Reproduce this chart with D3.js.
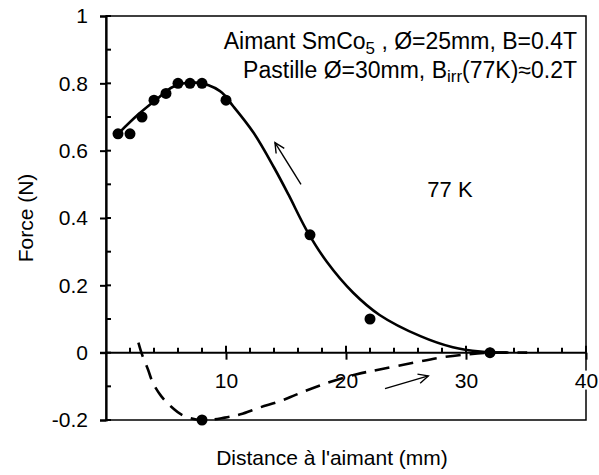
<!DOCTYPE html>
<html><head><meta charset="utf-8">
<script src="https://cdn.jsdelivr.net/npm/d3@7/dist/d3.min.js"></script>
<style>body{margin:0;background:#fff}text{font-family:Arial,"Liberation Sans",sans-serif;fill:#000}</style>
</head><body><svg id="c" width="599" height="475"></svg>
<script>
// measured points
const ptX = [1, 2, 3, 4, 5, 6, 7, 8, 10, 17, 22, 32];
const ptY = [0.65, 0.65, 0.70, 0.75, 0.77, 0.80, 0.80, 0.80, 0.75, 0.35, 0.10, 0];
const minPtX = [8];
const minPtY = [-0.2];
// solid curve
const fitX = [1, 2.7, 4.2, 5.6, 7.5, 9.5, 10.6, 12.3, 14, 15.2, 16.7, 18.4, 20.6, 22.8, 26.2, 28.9, 31.2, 33.4];
const fitY = [0.65, 0.708, 0.752, 0.79, 0.802, 0.777, 0.732, 0.653, 0.55, 0.47, 0.365, 0.27, 0.178, 0.112, 0.049, 0.016, 0.003, 0];
// dashed curve
const dashX = [2.7, 3.0, 3.5, 3.9, 4.6, 5.3, 6.4, 8, 9.9, 11.2, 12.8, 14.5, 15.9, 18.1, 20.9, 22.8, 25.6, 27.8, 30.1, 32, 35.1];
const dashY = [0.03, -0.005, -0.05, -0.089, -0.129, -0.156, -0.186, -0.2, -0.193, -0.183, -0.163, -0.144, -0.124, -0.094, -0.064, -0.05, -0.03, -0.015, -0.005, 0, 0];
// arrows [x1,y1,x2,y2] in data units
const arrowUp = [16.25, 0.50, 14.08, 0.624];
const arrowRight = [23.25, -0.107, 26.86, -0.069];
const yMajor = [-0.2, 0, 0.2, 0.4, 0.6, 0.8, 1];
const yMinor = [-0.1, 0.1, 0.3, 0.5, 0.7, 0.9];
const xMajor = [10, 20, 30, 40];
const xMinor = [2, 4, 6, 8, 12, 14, 16, 18, 22, 24, 26, 28, 32, 34, 36, 38];

const svg = d3.select("#c");
const x = d3.scaleLinear().domain([0, 40]).range([106, 586]);
const y = d3.scaleLinear().domain([-0.2, 1]).range([420, 16]);
const FS = 21;
const FF = "Arial, 'Liberation Sans', sans-serif";

// frame
svg.append("rect").attr("x", x(0)).attr("y", y(1)).attr("width", x(40) - x(0)).attr("height", y(-0.2) - y(1))
  .attr("fill", "none").attr("stroke", "#000").attr("stroke-width", 1.5);

// y axis
const ya = svg.append("g").attr("transform", `translate(${x(0)},0)`)
  .call(d3.axisLeft(y).tickValues(yMajor).tickSize(6).tickPadding(12)
    .tickFormat(d => String(+d.toFixed(1))));
ya.select(".domain").attr("stroke-width", 2.2);
ya.selectAll(".tick line").attr("stroke-width", 2);
ya.selectAll("text").attr("font-size", FS).attr("font-family", FF);
svg.append("g").selectAll("line").data(yMajor.concat(yMinor)).join("line")
  .attr("x1", x(0)).attr("x2", x(0) + 5).attr("y1", d => y(d)).attr("y2", d => y(d))
  .attr("stroke", "#000").attr("stroke-width", 2);

// x axis at y=0
const xa = svg.append("g").attr("transform", `translate(0,${y(0)})`)
  .call(d3.axisBottom(x).tickValues(xMajor).tickSize(7).tickPadding(13));
xa.select(".domain").attr("stroke-width", 2).attr("d", `M${x(0) - 6},0H${x(40)}`);
xa.selectAll(".tick line").attr("stroke-width", 2);
xa.selectAll(".tick text").attr("font-size", FS).attr("font-family", FF);
xa.selectAll(".tick").each(function () {
  const t = d3.select(this).select("text");
  const bb = t.node().getBBox();
  d3.select(this).insert("rect", "text").attr("x", bb.x - 1).attr("y", bb.y + 2).attr("width", bb.width + 2).attr("height", bb.height - 4).attr("fill", "#fff");
});
svg.append("g").selectAll("line").data(xMinor.concat(xMajor)).join("line")
  .attr("x1", d => x(d)).attr("x2", d => x(d)).attr("y1", y(0)).attr("y2", d => y(0) - (xMajor.includes(d) ? 7 : 5))
  .attr("stroke", "#000").attr("stroke-width", 2);

// curves
const line = d3.line().x(d => x(d[0])).y(d => y(d[1])).curve(d3.curveCatmullRom.alpha(0.5));
svg.append("path").attr("d", line(fitX.map((v, i) => [v, fitY[i]])))
  .attr("fill", "none").attr("stroke", "#000").attr("stroke-width", 2.6);
svg.append("path").attr("d", line(dashX.map((v, i) => [v, dashY[i]])))
  .attr("fill", "none").attr("stroke", "#000").attr("stroke-width", 2.6).attr("stroke-dasharray", "15,9");

// points
svg.append("g").selectAll("circle").data(ptX.map((v, i) => [v, ptY[i]]).concat(minPtX.map((v, i) => [v, minPtY[i]])))
  .join("circle").attr("cx", d => x(d[0])).attr("cy", d => y(d[1])).attr("r", 5.5).attr("fill", "#000");

// arrows
function arrow(a) {
  const x1 = x(a[0]), y1 = y(a[1]), x2 = x(a[2]), y2 = y(a[3]);
  const ang = Math.atan2(y2 - y1, x2 - x1), L = 11, w = 0.45;
  svg.append("line").attr("x1", x1).attr("y1", y1).attr("x2", x2).attr("y2", y2).attr("stroke", "#000").attr("stroke-width", 1.4);
  svg.append("path").attr("d", `M${x2 - L * Math.cos(ang - w)},${y2 - L * Math.sin(ang - w)}L${x2},${y2}L${x2 - L * Math.cos(ang + w)},${y2 - L * Math.sin(ang + w)}`)
    .attr("fill", "none").attr("stroke", "#000").attr("stroke-width", 1.4);
}
arrow(arrowUp);
arrow(arrowRight);

// annotations
const LF = 23, SF = 17;
const t1 = svg.append("text").attr("x", 577).attr("y", 49).attr("text-anchor", "end").attr("font-size", LF);
t1.append("tspan").text("Aimant SmCo");
t1.append("tspan").attr("font-size", SF).attr("dy", 5).text("5");
t1.append("tspan").attr("dy", -5).text(" , Ø=25mm, B=0.4T");
const t2 = svg.append("text").attr("x", 577).attr("y", 78).attr("text-anchor", "end").attr("font-size", LF);
t2.append("tspan").text("Pastille Ø=30mm, B");
t2.append("tspan").attr("font-size", SF).attr("dy", 4).text("irr");
t2.append("tspan").attr("dy", -4).text("(77K)≈0.2T");
svg.append("text").attr("x", 450).attr("y", 197).attr("text-anchor", "middle").attr("font-size", 22).text("77 K");

// axis titles
svg.append("text").attr("transform", `translate(33,${(y(1) + y(-0.2)) / 2}) rotate(-90)`).attr("text-anchor", "middle").attr("font-size", FS).text("Force (N)");
svg.append("text").attr("x", 332).attr("y", 465).attr("text-anchor", "middle").attr("font-size", FS).text("Distance à l'aimant (mm)");
</script></body></html>
